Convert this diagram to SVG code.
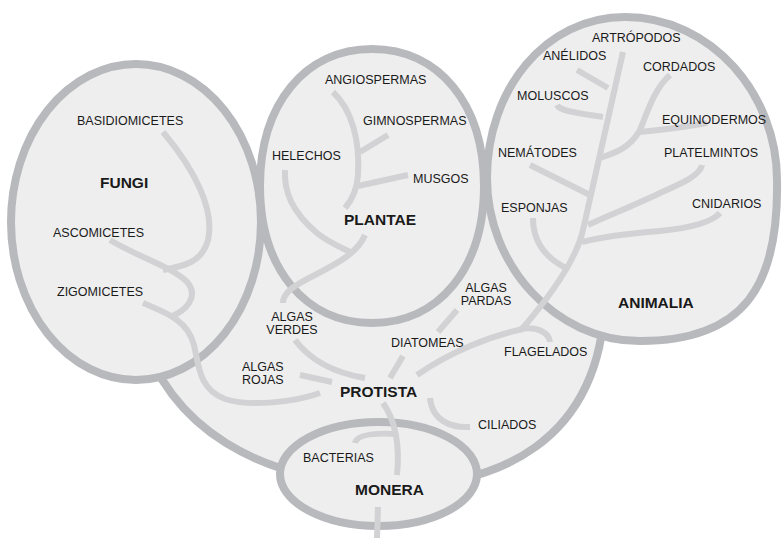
<svg xmlns="http://www.w3.org/2000/svg" width="782" height="538" viewBox="0 0 782 538">
<defs>
<style>
.fill{fill:#eeeeee;stroke:none}
.ol{fill:none;stroke:#b8b9bd;stroke-width:8}
.olf{fill:#eeeeee;stroke:#b8b9bd;stroke-width:8}
.br{fill:none;stroke:#d2d2d4;stroke-width:6;stroke-linecap:butt}
text{font-family:"Liberation Sans",Arial,Helvetica,sans-serif;fill:#1a1a1a;font-size:12.5px}
.k{font-weight:bold;font-size:15.5px}
</style>
<ellipse id="fungiShape" cx="136" cy="222" rx="125" ry="158"/>
<path id="plantaeShape" d="M372,49 C439,49 484,104 484,186 C484,268 439,323 372,323 C305,323 260,268 260,186 C260,104 305,49 372,49 Z"/>
<path id="animaliaShape" d="M625,17 C712,17 777,95 777,180 C779,285 745,341 640,341 C555,341 487,265 487,178 C487,90 545,17 625,17 Z"/>
</defs>

<g id="protista">
<path class="olf" d="M140,330 C170,430 260,480 380,485 C500,490 600,440 605,300 L560,200 L484,175 L400,200 L262,237 L150,300 Z"/>
</g>

<g id="kingdom-fills">
<use href="#fungiShape" class="fill"/>
<use href="#plantaeShape" class="fill"/>
<use href="#animaliaShape" class="fill"/>
</g>

<g id="fungi"><use href="#fungiShape" class="ol"/></g>
<g id="plantae"><use href="#plantaeShape" class="ol"/></g>
<g id="animalia"><use href="#animaliaShape" class="ol"/></g>
<g id="monera"><ellipse class="olf" cx="378.5" cy="474" rx="98.5" ry="52"/></g>

<g id="connectors">
<!-- fungi -->
<path class="br" d="M143,303 C170,314 188,322 194,345 C199,368 200,390 225,399 C250,407 295,402 320,393"/>
<path class="br" d="M110,240 C140,258 175,268 188,283 C198,296 188,310 170,317"/>
<path class="br" d="M163,132 C195,170 215,210 208,240 C202,262 185,266 163,270"/>
<!-- plantae -->
<path class="br" d="M333,92 C352,110 360,140 358,175 C357,190 352,200 345,208"/>
<path class="br" d="M388,135 L360,152"/>
<path class="br" d="M408,175 L358,186"/>
<path class="br" d="M285,170 C284,192 292,212 317,233 C328,242 340,247 350,252"/>
<path class="br" d="M365,235 C358,252 340,262 315,275 C295,285 283,292 283,303"/>
<!-- protista -->
<path class="br" d="M295,340 C310,360 335,373 365,378"/>
<path class="br" d="M300,375 L332,382"/>
<path class="br" d="M403,356 L390,378"/>
<path class="br" d="M457,310 L438,332"/>
<path class="br" d="M417,375 C450,352 490,336 523,329"/>
<path class="br" d="M520,329 C538,326 549,333 550,342"/>
<path class="br" d="M430,398 C432,420 450,428 470,427"/>
<path class="br" d="M383,403 C395,420 400,445 397,475"/>
<path class="br" d="M355,443 C357,433 380,433 397,434"/>
<path class="br" d="M378,507 L377,538"/>
<!-- animalia -->
<path class="br" d="M623,52 L583,230 C578,252 560,285 521,330"/>
<path class="br" d="M577,70 L608,88"/>
<path class="br" d="M557,105 C560,112 585,114 603,117"/>
<path class="br" d="M670,75 C655,88 648,110 640,130 C630,148 615,153 600,158"/>
<path class="br" d="M707,123 C680,128 660,130 640,132"/>
<path class="br" d="M530,165 L590,195"/>
<path class="br" d="M702,165 C700,175 685,182 660,193 C635,205 610,215 588,225"/>
<path class="br" d="M720,213 C712,222 690,228 660,231 C635,233 605,236 582,242"/>
<path class="br" d="M533,218 C533,235 540,255 566,268"/>
</g>

<g id="labels-kingdoms">
<text class="k" x="100" y="188">FUNGI</text>
<text class="k" x="344" y="225">PLANTAE</text>
<text class="k" x="618" y="308">ANIMALIA</text>
<text class="k" x="340" y="397">PROTISTA</text>
<text class="k" x="355" y="495">MONERA</text>
</g>

<g id="basidiomicetes"><text x="77" y="125">BASIDIOMICETES</text></g>
<g id="ascomicetes"><text x="53" y="237">ASCOMICETES</text></g>
<g id="zigomicetes"><text x="57" y="296">ZIGOMICETES</text></g>
<g id="angiospermas"><text x="325" y="84">ANGIOSPERMAS</text></g>
<g id="gimnospermas"><text x="363" y="125">GIMNOSPERMAS</text></g>
<g id="helechos"><text x="272" y="160">HELECHOS</text></g>
<g id="musgos"><text x="413" y="183">MUSGOS</text></g>
<g id="algas-verdes"><text x="292" y="321" text-anchor="middle">ALGAS</text><text x="292" y="334" text-anchor="middle">VERDES</text></g>
<g id="algas-rojas"><text x="242" y="371">ALGAS</text><text x="242" y="384">ROJAS</text></g>
<g id="algas-pardas"><text x="486" y="292" text-anchor="middle">ALGAS</text><text x="486" y="305" text-anchor="middle">PARDAS</text></g>
<g id="diatomeas"><text x="391" y="347">DIATOMEAS</text></g>
<g id="flagelados"><text x="504" y="356">FLAGELADOS</text></g>
<g id="ciliados"><text x="478" y="429">CILIADOS</text></g>
<g id="bacterias"><text x="303" y="462">BACTERIAS</text></g>
<g id="artropodos"><text x="592" y="42">ARTRÓPODOS</text></g>
<g id="anelidos"><text x="543" y="60">ANÉLIDOS</text></g>
<g id="cordados"><text x="643" y="71">CORDADOS</text></g>
<g id="moluscos"><text x="517" y="100">MOLUSCOS</text></g>
<g id="equinodermos"><text x="662" y="124">EQUINODERMOS</text></g>
<g id="nematodes"><text x="498" y="157">NEMÁTODES</text></g>
<g id="platelmintos"><text x="664" y="157">PLATELMINTOS</text></g>
<g id="esponjas"><text x="501" y="212">ESPONJAS</text></g>
<g id="cnidarios"><text x="692" y="208">CNIDARIOS</text></g>
</svg>
